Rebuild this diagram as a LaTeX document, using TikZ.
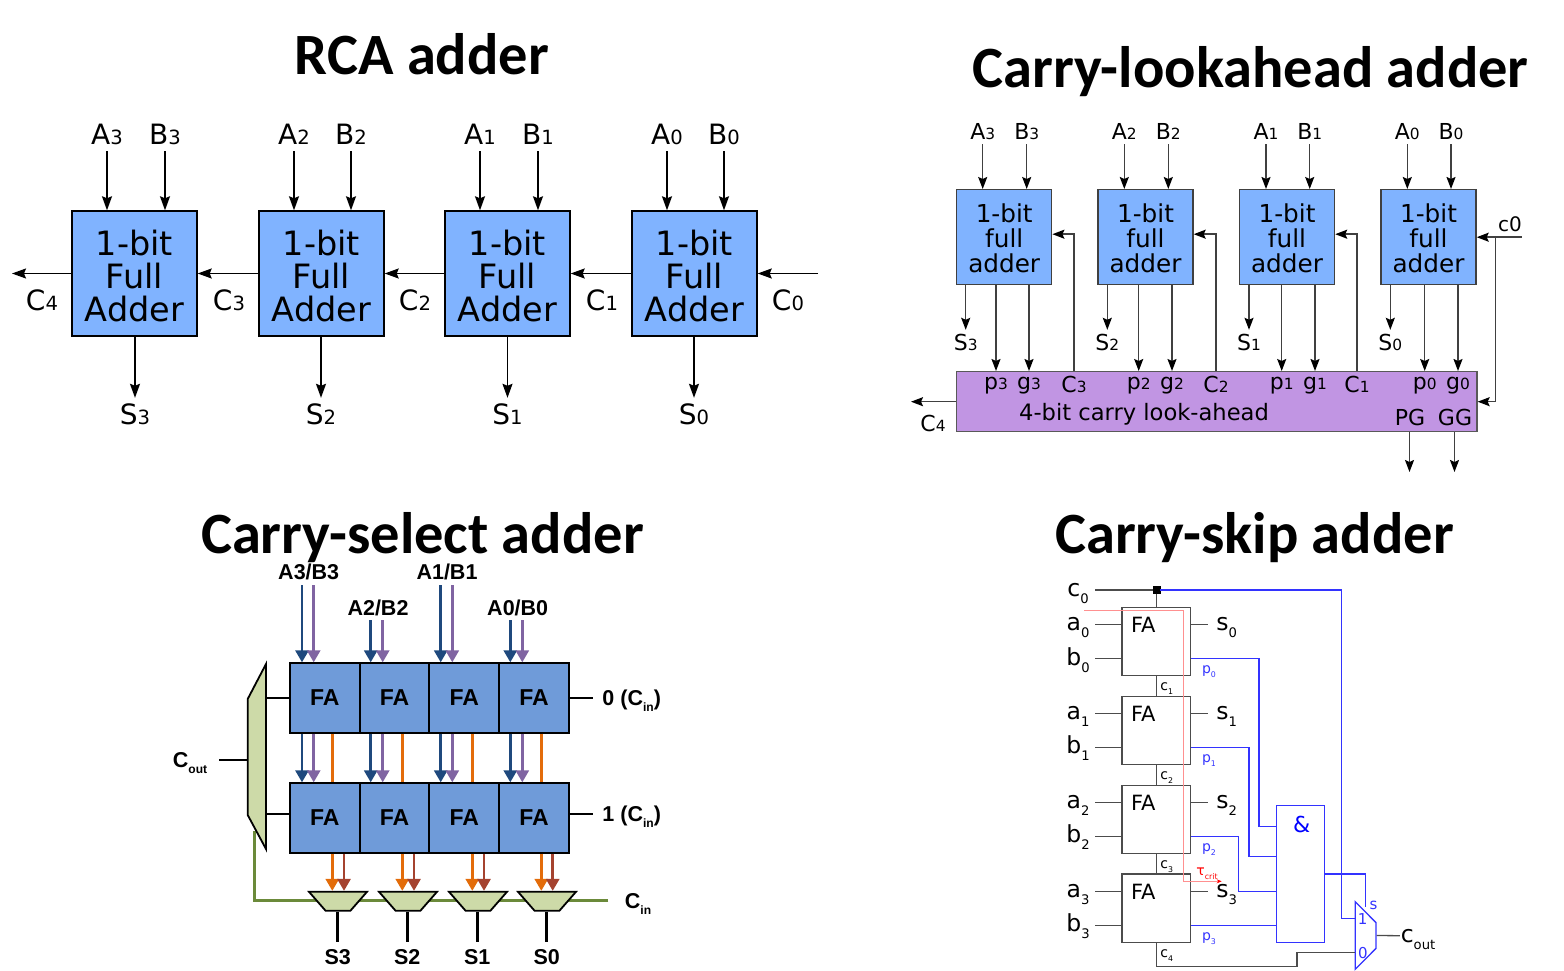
\documentclass[tikz,border=0pt]{standalone}
\usepackage{fontspec}
\usepackage{graphicx}
\setmainfont{DejaVu Sans}
\newfontfamily\titlefont{Carlito}
\newfontfamily\selfont{Liberation Sans}
\usetikzlibrary{arrows.meta,shapes.geometric}
\definecolor{adderblue}{HTML}{80B3FF}
\definecolor{lookpurple}{HTML}{C195E3}
\definecolor{fablue}{HTML}{6F9BD9}
\definecolor{muxgreen}{HTML}{CDDAA8}
\definecolor{selline}{HTML}{6B8A3A}
\definecolor{abar}{HTML}{1F497D}
\definecolor{bbar}{HTML}{8064A2}
\definecolor{carryor}{HTML}{E36C0A}
\definecolor{sumred}{HTML}{A5432F}
\definecolor{skipblue}{HTML}{3333FF}
\definecolor{critpink}{HTML}{FF9090}
\newcommand{\dg}[1]{\scalebox{.7}{#1}}
\newcommand{\lowidx}[1]{\raisebox{-.3em}{\scalebox{.56}{#1}}}
\newcommand{\rcatext}{\rule{0pt}{29.5pt}1-bit\\Full\\Adder}
\newcommand{\clatext}{\rule{0pt}{20.8pt}1-bit\\full\\adder}
\tikzset{
  titletext/.style={font=\titlefont\bfseries\fontsize{58.5}{60}\selectfont,inner sep=0,anchor=base},
  % RCA
  rcabox/.style={draw=black,fill=adderblue,line width=1.4pt,minimum width=125,minimum height=125,inner sep=0,
    align=center,font=\fontsize{33.5}{33}\selectfont},
  rcalabel/.style={font=\fontsize{28}{28}\selectfont,inner sep=0,text height=20,text depth=0,minimum height=32},
  rcawire/.style={line width=1.6pt,-{Stealth[length=14pt,width=10pt,inset=2pt]}},
  % carry-lookahead
  clabox/.style={draw=black!75,fill=adderblue,line width=1.4pt,minimum width=95,minimum height=95,inner sep=0,
    align=center,font=\fontsize{24.7}{25}\selectfont},
  clalabel/.style={font=\fontsize{22}{22}\selectfont,inner sep=0,text height=16,text depth=0,minimum height=24},
  clawire/.style={line width=1.5pt,draw=black!75,-{Stealth[length=12pt,width=9pt,inset=2pt,black]}},
  % carry-select
  fabox/.style={draw=black,fill=fablue,line width=1.8pt,minimum width=70,minimum height=69.5,inner sep=0,
    font=\selfont\bfseries\fontsize{23}{23}\selectfont},
  sellabel/.style={font=\selfont\bfseries\fontsize{21.5}{22}\selectfont,inner sep=0,text height=15,text depth=0},
  selwire/.style={line width=2.8pt},
  bararrow/.style={selwire,-{Stealth[length=12pt,width=13pt,inset=0pt]}},
  lowmux/.style={trapezium,trapezium stretches=true,shape border rotate=180,trapezium left angle=56,trapezium right angle=56,
    draw=black,fill=muxgreen,line width=1.8pt,minimum width=58,minimum height=19,inner sep=1pt},
  % carry-skip
  skipwire/.style={line width=1.3pt,draw=black!70},
  bluewire/.style={line width=1.3pt,draw=skipblue},
  fablock/.style={draw=black!70,line width=1.3pt,minimum width=68.3,minimum height=68.3,inner sep=0},
  skiplabel/.style={font=\fontsize{23.5}{24}\selectfont,inner sep=0,text height=13,text depth=0},
  fatext/.style={font=\fontsize{21}{21}\selectfont,inner sep=0},
  smalllabel/.style={font=\fontsize{14}{14}\selectfont,inner sep=0,text height=8,text depth=0},
}
\begin{document}
\begin{tikzpicture}[x=1pt,y=-1pt]
\useasboundingbox (0,0) rectangle (1564,971);

% Titles
\node[titletext] (titlerca) at (422,74.5) {RCA adder};
\node[titletext] (titlecla) at (1250.5,87.5) {Carry-lookahead adder};
\node[titletext] (titlesel) at (422.5,553) {Carry-select adder};
\node[titletext] (titleskip) at (1254.5,553) {Carry-skip adder};

% RCA adder: full adders
\node[rcabox] (add3) at (134.5,273.5) {\rcatext};
\node[rcabox] (add2) at (321.5,273.5) {\rcatext};
\node[rcabox] (add1) at (507.5,273.5) {\rcatext};
\node[rcabox] (add0) at (694.5,273.5) {\rcatext};

% RCA adder: inputs
\node[rcalabel] (a3) at (107,135) {A\dg{3}};
\node[rcalabel] (b3) at (165,135) {B\dg{3}};
\node[rcalabel] (a2) at (294,135) {A\dg{2}};
\node[rcalabel] (b2) at (351,135) {B\dg{2}};
\node[rcalabel] (a1) at (480,135) {A\dg{1}};
\node[rcalabel] (b1) at (538,135) {B\dg{1}};
\node[rcalabel] (a0) at (667,135) {A\dg{0}};
\node[rcalabel] (b0) at (724,135) {B\dg{0}};
\draw[rcawire] (a3.south) -- (a3 |- add3.north);
\draw[rcawire] (b3.south) -- (b3 |- add3.north);
\draw[rcawire] (a2.south) -- (a2 |- add2.north);
\draw[rcawire] (b2.south) -- (b2 |- add2.north);
\draw[rcawire] (a1.south) -- (a1 |- add1.north);
\draw[rcawire] (b1.south) -- (b1 |- add1.north);
\draw[rcawire] (a0.south) -- (a0 |- add0.north);
\draw[rcawire] (b0.south) -- (b0 |- add0.north);

% RCA adder: sums
\node[rcalabel] (s3) at (135,414) {S\dg{3}};
\node[rcalabel] (s2) at (321,414) {S\dg{2}};
\node[rcalabel] (s1) at (507.5,414) {S\dg{1}};
\node[rcalabel] (s0) at (694,414) {S\dg{0}};
\draw[rcawire] (s3 |- add3.south) -- (s3.north);
\draw[rcawire] (s2 |- add2.south) -- (s2.north);
\draw[rcawire] (s1 |- add1.south) -- (s1.north);
\draw[rcawire] (s0 |- add0.south) -- (s0.north);

% RCA adder: carries
\coordinate (c4out) at (12,273.5);
\coordinate (c0in) at (818,273.5);
\draw[rcawire] (add3.west) -- (c4out);
\draw[rcawire] (add2.west) -- (add3.east);
\draw[rcawire] (add1.west) -- (add2.east);
\draw[rcawire] (add0.west) -- (add1.east);
\draw[rcawire] (c0in) -- (add0.east);
\node[rcalabel] (c4) at (42,300) {C\dg{4}};
\node[rcalabel] (c3) at (229,300) {C\dg{3}};
\node[rcalabel] (c2) at (415,300) {C\dg{2}};
\node[rcalabel] (c1) at (602,300) {C\dg{1}};
\node[rcalabel] (c0) at (788,300) {C\dg{0}};

% Carry-lookahead adder: blocks
\node[clabox] (bit3) at (1004.2,237.2) {\clatext};
\node[clabox] (bit2) at (1145.5,237.2) {\clatext};
\node[clabox] (bit1) at (1287,237.2) {\clatext};
\node[clabox] (bit0) at (1428.5,237.2) {\clatext};
\node[draw=black!65,fill=lookpurple,line width=1.4pt,minimum width=520.3,minimum height=60,inner sep=0] (cla) at (1216.8,401.7) {};
\node[font=\fontsize{22.6}{23}\selectfont,inner sep=0,text height=16,text depth=0] (clatext) at (1144,412.7) {4-bit carry look-ahead};

% Carry-lookahead adder: inputs
\node[clalabel] (la3) at (982.7,132) {A\dg{3}};
\node[clalabel] (lb3) at (1026.7,132) {B\dg{3}};
\node[clalabel] (la2) at (1124.3,132) {A\dg{2}};
\node[clalabel] (lb2) at (1168.3,132) {B\dg{2}};
\node[clalabel] (la1) at (1266,132) {A\dg{1}};
\node[clalabel] (lb1) at (1309.7,132) {B\dg{1}};
\node[clalabel] (la0) at (1407.3,132) {A\dg{0}};
\node[clalabel] (lb0) at (1451,132) {B\dg{0}};
\draw[clawire] (la3.south) -- (la3 |- bit3.north);
\draw[clawire] (lb3.south) -- (lb3 |- bit3.north);
\draw[clawire] (la2.south) -- (la2 |- bit2.north);
\draw[clawire] (lb2.south) -- (lb2 |- bit2.north);
\draw[clawire] (la1.south) -- (la1 |- bit1.north);
\draw[clawire] (lb1.south) -- (lb1 |- bit1.north);
\draw[clawire] (la0.south) -- (la0 |- bit0.north);
\draw[clawire] (lb0.south) -- (lb0 |- bit0.north);

% Carry-lookahead adder: sums
\node[clalabel] (ls3) at (965.7,342) {S\dg{3}};
\node[clalabel] (ls2) at (1107.3,342) {S\dg{2}};
\node[clalabel] (ls1) at (1249,342) {S\dg{1}};
\node[clalabel] (ls0) at (1390.3,342) {S\dg{0}};
\draw[clawire] (ls3 |- bit3.south) -- (ls3.north);
\draw[clawire] (ls2 |- bit2.south) -- (ls2.north);
\draw[clawire] (ls1 |- bit1.south) -- (ls1.north);
\draw[clawire] (ls0 |- bit0.south) -- (ls0.north);

% Carry-lookahead adder: propagate and generate
\node[clalabel] (p3) at (996,381) {p\dg{3}};
\node[clalabel] (g3) at (1029,381) {g\dg{3}};
\node[clalabel] (p2) at (1138.7,381) {p\dg{2}};
\node[clalabel] (g2) at (1172,381) {g\dg{2}};
\node[clalabel] (p1) at (1281.7,381) {p\dg{1}};
\node[clalabel] (g1) at (1315,381) {g\dg{1}};
\node[clalabel] (p0) at (1424.7,381) {p\dg{0}};
\node[clalabel] (g0) at (1458,381) {g\dg{0}};
\draw[clawire] (p3 |- bit3.south) -- (p3 |- cla.north);
\draw[clawire] (g3 |- bit3.south) -- (g3 |- cla.north);
\draw[clawire] (p2 |- bit2.south) -- (p2 |- cla.north);
\draw[clawire] (g2 |- bit2.south) -- (g2 |- cla.north);
\draw[clawire] (p1 |- bit1.south) -- (p1 |- cla.north);
\draw[clawire] (g1 |- bit1.south) -- (g1 |- cla.north);
\draw[clawire] (p0 |- bit0.south) -- (p0 |- cla.north);
\draw[clawire] (g0 |- bit0.south) -- (g0 |- cla.north);

% Carry-lookahead adder: carries
\node[clalabel] (lc3) at (1074,384.7) {C\dg{3}};
\node[clalabel] (lc2) at (1216,384.7) {C\dg{2}};
\node[clalabel] (lc1) at (1357,384.7) {C\dg{1}};
\draw[clawire] (lc3 |- cla.north) |- ([yshift=3pt]bit3.east);
\draw[clawire] (lc2 |- cla.north) |- ([yshift=3pt]bit2.east);
\draw[clawire] (lc1 |- cla.north) |- ([yshift=3pt]bit1.east);
\coordinate (lc0in) at (1521.7,237.2);
\coordinate (lc0tap) at (1495.7,237.2);
\coordinate (lc4out) at (911,401.7);
\node[font=\fontsize{20}{20}\selectfont,inner sep=0] (lc0) at (1510,224) {c0};
\node[clalabel] (lc4) at (933,423) {C\dg{4}};
\draw[clawire] (lc0in) -- (bit0.east);
\draw[clawire] (lc0tap) |- (cla.east);
\draw[clawire] (cla.west) -- (lc4out);

% Carry-lookahead adder: group outputs
\node[clalabel] (pg) at (1410,417) {PG};
\node[clalabel] (gg) at (1455,417) {GG};
\coordinate (pgout) at (1409.5,472);
\coordinate (ggout) at (1454.5,472);
\draw[clawire] (pgout |- cla.south) -- (pgout);
\draw[clawire] (ggout |- cla.south) -- (ggout);

% Carry-select adder: labels
\node[sellabel] (ab3) at (308.7,572) {A3/B3};
\node[sellabel] (ab2) at (378,607.7) {A2/B2};
\node[sellabel] (ab1) at (447,572) {A1/B1};
\node[sellabel] (ab0) at (517.7,607.7) {A0/B0};
\node[sellabel] (sel3) at (337.7,956.7) {S3};
\node[sellabel] (sel2) at (407.3,956.7) {S2};
\node[sellabel] (sel1) at (477.3,956.7) {S1};
\node[sellabel] (sel0) at (546.7,956.7) {S0};
\node[sellabel,minimum width=58] (cout) at (190,760) {C\lowidx{out}};
\node[sellabel,minimum width=76.8] (zero) at (631.7,698) {0 (C\lowidx{in})};
\node[sellabel,minimum width=76.8] (one) at (631.7,814) {1 (C\lowidx{in})};
\node[sellabel,minimum width=59] (cin) at (638,900.7) {C\lowidx{in}};

% Carry-select adder: select line, under the muxes
\coordinate (selturn) at (254.3,831);
\draw[selwire,selline] (cin.west) -- (cin.west -| selturn) -- (selturn);

% Carry-select adder: full adder rows
\node[fabox] (ft3) at (324.8,698) {FA};
\node[fabox] (ft2) at (394.6,698) {FA};
\node[fabox] (ft1) at (464.2,698) {FA};
\node[fabox] (ft0) at (534,698) {FA};
\node[fabox] (fb3) at (324.8,818) {FA};
\node[fabox] (fb2) at (394.6,818) {FA};
\node[fabox] (fb1) at (464.2,818) {FA};
\node[fabox] (fb0) at (534,818) {FA};

% Carry-select adder: muxes
\node[lowmux] (m3) at (338,901.3) {};
\node[lowmux] (m2) at (408,901.3) {};
\node[lowmux] (m1) at (478,901.3) {};
\node[lowmux] (m0) at (547,901.3) {};
\coordinate (muxl) at (247.7,756);
\coordinate (muxr) at (266,756);
\draw[draw=black,fill=muxgreen,line width=1.8pt] (266,664) -- (247.7,699) -- (247.7,815) -- (266,849) -- cycle;

% Carry-select adder: inputs
\coordinate (ia3) at (302,585);
\coordinate (ib3) at (313.7,585);
\coordinate (ia2) at (370.7,620);
\coordinate (ib2) at (382.7,620);
\coordinate (ia1) at (440.7,585);
\coordinate (ib1) at (452.3,585);
\coordinate (ia0) at (510.3,620);
\coordinate (ib0) at (522.3,620);
\draw[bararrow,abar] (ia3) -- (ia3 |- ft3.north);
\draw[bararrow,bbar] (ib3) -- (ib3 |- ft3.north);
\draw[bararrow,abar] (ia2) -- (ia2 |- ft2.north);
\draw[bararrow,bbar] (ib2) -- (ib2 |- ft2.north);
\draw[bararrow,abar] (ia1) -- (ia1 |- ft1.north);
\draw[bararrow,bbar] (ib1) -- (ib1 |- ft1.north);
\draw[bararrow,abar] (ia0) -- (ia0 |- ft0.north);
\draw[bararrow,bbar] (ib0) -- (ib0 |- ft0.north);

% Carry-select adder: between the rows
\draw[bararrow,abar] (ia3 |- ft3.south) -- (ia3 |- fb3.north);
\draw[bararrow,bbar] (ib3 |- ft3.south) -- (ib3 |- fb3.north);
\draw[bararrow,abar] (ia2 |- ft2.south) -- (ia2 |- fb2.north);
\draw[bararrow,bbar] (ib2 |- ft2.south) -- (ib2 |- fb2.north);
\draw[bararrow,abar] (ia1 |- ft1.south) -- (ia1 |- fb1.north);
\draw[bararrow,bbar] (ib1 |- ft1.south) -- (ib1 |- fb1.north);
\draw[bararrow,abar] (ia0 |- ft0.south) -- (ia0 |- fb0.north);
\draw[bararrow,bbar] (ib0 |- ft0.south) -- (ib0 |- fb0.north);
\coordinate (co3) at (332.3,733);
\coordinate (co2) at (402.3,733);
\coordinate (co1) at (472.3,733);
\coordinate (co0) at (541.3,733);
\coordinate (re3) at (344,853);
\coordinate (re2) at (414,853);
\coordinate (re1) at (484,853);
\coordinate (re0) at (552.7,853);
\draw[selwire,carryor] (co3 |- ft3.south) -- (co3 |- fb3.north);
\draw[selwire,carryor] (co2 |- ft2.south) -- (co2 |- fb2.north);
\draw[selwire,carryor] (co1 |- ft1.south) -- (co1 |- fb1.north);
\draw[selwire,carryor] (co0 |- ft0.south) -- (co0 |- fb0.north);

% Carry-select adder: into the muxes
\draw[bararrow,carryor] (co3 |- fb3.south) -- (co3 |- m3.north);
\draw[bararrow,sumred] (re3 |- fb3.south) -- (re3 |- m3.north);
\draw[bararrow,carryor] (co2 |- fb2.south) -- (co2 |- m2.north);
\draw[bararrow,sumred] (re2 |- fb2.south) -- (re2 |- m2.north);
\draw[bararrow,carryor] (co1 |- fb1.south) -- (co1 |- m1.north);
\draw[bararrow,sumred] (re1 |- fb1.south) -- (re1 |- m1.north);
\draw[bararrow,carryor] (co0 |- fb0.south) -- (co0 |- m0.north);
\draw[bararrow,sumred] (re0 |- fb0.south) -- (re0 |- m0.north);

% Carry-select adder: black leads
\draw[selwire] (sel3 |- m3.south) -- ([yshift=7pt]sel3.north);
\draw[selwire] (sel2 |- m2.south) -- ([yshift=7pt]sel2.north);
\draw[selwire] (sel1 |- m1.south) -- ([yshift=7pt]sel1.north);
\draw[selwire] (sel0 |- m0.south) -- ([yshift=7pt]sel0.north);
\draw[selwire] (ft3.west) -- (ft3.west -| muxr);
\draw[selwire] (fb3.west |- one) -- (one -| muxr);
\draw[selwire] (ft0.east) -- (zero.west);
\draw[selwire] (fb0.east |- one) -- (one.west);
\draw[selwire] (cout.east) -- (cout.east -| muxl);

% Carry-skip adder: full adders
\node[fablock] (fa0) at (1156.2,641.5) {};
\node[fablock] (fa1) at (1156.2,730.5) {};
\node[fablock] (fa2) at (1156.2,819.5) {};
\node[fablock] (fa3) at (1156.2,908.2) {};
\node[fatext] (fat0) at (1143.3,625) {FA};
\node[fatext] (fat1) at (1143.3,714) {FA};
\node[fatext] (fat2) at (1143.3,803) {FA};
\node[fatext] (fat3) at (1143.3,892) {FA};

% Carry-skip adder: and block and mux
\node[draw=skipblue,line width=1.3pt,minimum width=47.6,minimum height=136.6,inner sep=0] (andgate) at (1300.5,874) {};
\node[font=\fontsize{22}{22}\selectfont,inner sep=0,text=blue] (amp) at (1301.7,824) {\&};
\node[trapezium,trapezium stretches=true,shape border rotate=270,trapezium left angle=51,trapezium right angle=51,
  draw=skipblue,line width=1.3pt,minimum width=67.6,minimum height=20.7,inner sep=1pt] (skipmux) at (1365.6,935.5) {};
\node[font=\fontsize{15}{15}\selectfont,inner sep=0,text=skipblue] (muxone) at (1362.7,918.7) {1};
\node[font=\fontsize{15}{15}\selectfont,inner sep=0,text=skipblue] (muxzero) at (1363,952.7) {0};
\node[font=\fontsize{15}{15}\selectfont,inner sep=0,text=skipblue] (muxs) at (1373.5,905) {s};

% Carry-skip adder: inputs
\node[skiplabel,minimum width=34] (ci) at (1078,590) {c\lowidx{0}};
\node[skiplabel,minimum width=34] (xa0) at (1078,624.3) {a\lowidx{0}};
\node[skiplabel,minimum width=34] (xb0) at (1078,658.7) {b\lowidx{0}};
\node[skiplabel,minimum width=34] (xa1) at (1078,713.3) {a\lowidx{1}};
\node[skiplabel,minimum width=34] (xb1) at (1078,747.3) {b\lowidx{1}};
\node[skiplabel,minimum width=34] (xa2) at (1078,802.3) {a\lowidx{2}};
\node[skiplabel,minimum width=34] (xb2) at (1078,836.3) {b\lowidx{2}};
\node[skiplabel,minimum width=34] (xa3) at (1078,891.3) {a\lowidx{3}};
\node[skiplabel,minimum width=34] (xb3) at (1078,925.3) {b\lowidx{3}};
\draw[skipwire] (xa0.east) -- (xa0.east -| fa0.west);
\draw[skipwire] (xb0.east) -- (xb0.east -| fa0.west);
\draw[skipwire] (xa1.east) -- (xa1.east -| fa1.west);
\draw[skipwire] (xb1.east) -- (xb1.east -| fa1.west);
\draw[skipwire] (xa2.east) -- (xa2.east -| fa2.west);
\draw[skipwire] (xb2.east) -- (xb2.east -| fa2.west);
\draw[skipwire] (xa3.east) -- (xa3.east -| fa3.west);
\draw[skipwire] (xb3.east) -- (xb3.east -| fa3.west);

% Carry-skip adder: sums
\node[skiplabel,minimum width=38] (xs0) at (1226.7,624.3) {s\lowidx{0}};
\node[skiplabel,minimum width=38] (xs1) at (1226.7,713.3) {s\lowidx{1}};
\node[skiplabel,minimum width=38] (xs2) at (1226.7,802.3) {s\lowidx{2}};
\node[skiplabel,minimum width=38] (xs3) at (1226.7,891.3) {s\lowidx{3}};
\draw[skipwire] (xs0 -| fa0.east) -- (xs0.west);
\draw[skipwire] (xs1 -| fa1.east) -- (xs1.west);
\draw[skipwire] (xs2 -| fa2.east) -- (xs2.west);
\draw[skipwire] (xs3 -| fa3.east) -- (xs3.west);

% Carry-skip adder: carry chain
\node[draw=black,fill=black,minimum size=7,inner sep=0] (jct) at (1156.2,590) {};
\coordinate (c4turn) at (1297,966.3);
\draw[skipwire] (ci.east) -- (jct);
\draw[skipwire] (jct) -- (fa0.north);
\draw[skipwire] (fa0.south) -- (fa1.north);
\draw[skipwire] (fa1.south) -- (fa2.north);
\draw[skipwire] (fa2.south) -- (fa3.north);
\draw[skipwire] (fa3.south) |- (c4turn) |- (muxzero -| skipmux.west);
\node[smalllabel] (cc1) at (1166.7,686) {c\lowidx{1}};
\node[smalllabel] (cc2) at (1166.7,775) {c\lowidx{2}};
\node[smalllabel] (cc3) at (1166.7,864) {c\lowidx{3}};
\node[smalllabel] (cc4) at (1166.7,953) {c\lowidx{4}};

% Carry-skip adder: propagate lines
\coordinate (p0turn) at (1259,826.3);
\coordinate (p1turn) at (1249,856.7);
\coordinate (p2turn) at (1238.7,891.3);
\draw[bluewire] (xb0 -| fa0.east) -| (p0turn) -- (p0turn -| andgate.west);
\draw[bluewire] (xb1 -| fa1.east) -| (p1turn) -- (p1turn -| andgate.west);
\draw[bluewire] (xb2 -| fa2.east) -| (p2turn) -- (p2turn -| andgate.west);
\draw[bluewire] (xb3 -| fa3.east) -- (xb3 -| andgate.west);
\node[smalllabel,text=skipblue] (xp0) at (1209,669) {p\lowidx{0}};
\node[smalllabel,text=skipblue] (xp1) at (1209,758) {p\lowidx{1}};
\node[smalllabel,text=skipblue] (xp2) at (1209,847) {p\lowidx{2}};
\node[smalllabel,text=skipblue] (xp3) at (1209,936) {p\lowidx{3}};

% Carry-skip adder: skip path and output
\coordinate (skiptap) at (1341.7,750);
\coordinate (selin) at (1365.7,906.7);
\draw[bluewire] (jct) -- (jct -| skiptap) -- (skiptap |- muxone) -- (muxone -| skipmux.west);
\draw[bluewire] (andgate.east) -| (selin);
\node[skiplabel,minimum width=36] (skipout) at (1418,935.7) {c\lowidx{out}};
\draw[skipwire] (skipmux.east) -- (skipout.west);

% Carry-skip adder: critical path
\coordinate (critstart) at (1084.3,610.3);
\coordinate (critbend) at (1183.7,610.3);
\coordinate (critend) at (1221.7,881.3);
\draw[line width=1.1pt,critpink,-{Stealth[length=5pt,width=4pt,color=red]}] (critstart) -- (critbend) |- (critend);
\node[smalllabel,text=red] (tcrit) at (1207,871.7) {τ\lowidx{crit}};
\end{tikzpicture}
\end{document}
